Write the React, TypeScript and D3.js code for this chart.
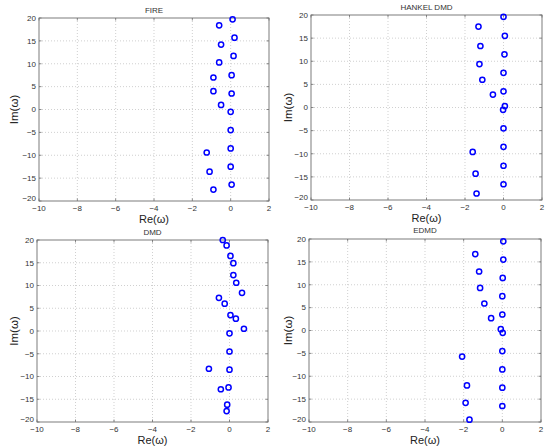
import React from "react";
import * as d3 from "d3";

const titles = ["FIRE", "HANKEL DMD", "DMD", "EDMD"];
const xTicks = [-10, -8, -6, -4, -2, 0, 2];
const yTicks = [-20, -15, -10, -5, 0, 5, 10, 15, 20];

const fireRe = [0.1, -0.6, 0.2, -0.5, 0.15, -0.6, -0.9, 0.05, -0.9, 0.05, -0.5, 0, 0, 0, -1.25, 0, -1.1, 0.05, -0.9];
const fireIm = [19.7, 18.4, 15.7, 14.2, 11.7, 10.3, 7.0, 7.5, 4.0, 3.5, 1.0, -0.5, -4.5, -8.5, -9.4, -12.5, -13.6, -16.4, -17.5];

const hankelRe = [0.0, -1.3, 0.07, -1.2, 0.05, -1.25, 0, -1.1, 0, -0.55, 0.07, -0.02, 0, 0, -1.6, 0, -1.45, 0, -1.4];
const hankelIm = [19.6, 17.5, 15.5, 13.3, 11.5, 9.4, 7.5, 6.0, 3.5, 2.8, 0.3, -0.5, -4.5, -8.5, -9.6, -12.6, -14.3, -16.6, -18.6];

const dmdRe = [-0.35, -0.15, 0.05, 0.2, 0.2, 0.35, 0.65, -0.55, -0.25, 0.05, 0.33, 0.75, 0, 0, -1.07, 0, -0.05, -0.45, -0.12, -0.15];
const dmdIm = [20.0, 18.8, 16.5, 14.9, 12.3, 10.6, 8.4, 7.3, 6.0, 3.5, 2.7, 0.5, -0.5, -4.5, -8.3, -8.5, -12.4, -12.8, -16.2, -17.6];

const edmdRe = [0.05, -1.4, 0.05, -1.2, 0.02, -1.15, 0, -0.93, 0, -0.58, -0.08, 0.02, 0, -2.08, 0, -1.83, 0, -1.9, 0, -1.7];
const edmdIm = [19.5, 16.7, 15.5, 12.9, 11.5, 9.3, 7.5, 5.9, 3.5, 2.7, 0.3, -0.5, -4.5, -5.7, -8.5, -12.0, -12.5, -15.8, -16.5, -19.5];

const seriesRe = [fireRe, hankelRe, dmdRe, edmdRe];
const seriesIm = [fireIm, hankelIm, dmdIm, edmdIm];

// panel geometry (layout only)
const layout = [
  { left: 39, top: 18, w: 230, h: 183, titleY: 10, imX: 14 },
  { left: 311, top: 15, w: 231, h: 185, titleY: 7, imX: 288 },
  { left: 37, top: 240, w: 231, h: 182, titleY: 232, imX: 14 },
  { left: 309, top: 239, w: 232, h: 183, titleY: 230, imX: 288 },
];

const FONT = "'Liberation Sans', Arial, Helvetica, sans-serif";
const AX = "#6e6e6e";
const TXT = "#333";

function Panel({ i }: { i: number }) {
  const L = layout[i];
  const x = d3.scaleLinear().domain([-10, 2]).range([L.left, L.left + L.w]);
  const y = d3.scaleLinear().domain([-20, 20]).range([L.top + L.h, L.top]);
  const re = seriesRe[i];
  const im = seriesIm[i];
  const cx = L.left + L.w / 2;
  const bottom = L.top + L.h;
  return (
    <g>
      <rect x={L.left} y={L.top} width={L.w} height={L.h} fill="#fff" />
      {xTicks.slice(1, -1).map((t) => (
        <line key={"gx" + t} x1={x(t)} x2={x(t)} y1={L.top} y2={bottom} stroke="#bbb" strokeWidth={0.7} strokeDasharray="1,2" />
      ))}
      {yTicks.slice(1, -1).map((t) => (
        <line key={"gy" + t} x1={L.left} x2={L.left + L.w} y1={y(t)} y2={y(t)} stroke="#bbb" strokeWidth={0.7} strokeDasharray="1,2" />
      ))}
      {xTicks.map((t) => (
        <g key={"tx" + t}>
          <line x1={x(t)} x2={x(t)} y1={bottom} y2={bottom - 2.5} stroke={AX} strokeWidth={0.8} />
          <line x1={x(t)} x2={x(t)} y1={L.top} y2={L.top + 2.5} stroke={AX} strokeWidth={0.8} />
          <text x={x(t)} y={bottom + 9.5} fontSize={8} fill={TXT} textAnchor="middle" fontFamily={FONT}>
            {t < 0 ? "\u2212" + Math.abs(t) : String(t)}
          </text>
        </g>
      ))}
      {yTicks.map((t) => (
        <g key={"ty" + t}>
          <line x1={L.left} x2={L.left + 2.5} y1={y(t)} y2={y(t)} stroke={AX} strokeWidth={0.8} />
          <line x1={L.left + L.w} x2={L.left + L.w - 2.5} y1={y(t)} y2={y(t)} stroke={AX} strokeWidth={0.8} />
          <text x={L.left - 3} y={y(t) + (t === -20 ? 0.4 : 2.8)} fontSize={8} fill={TXT} textAnchor="end" fontFamily={FONT}>
            {t < 0 ? "\u2212" + Math.abs(t) : String(t)}
          </text>
        </g>
      ))}
      <rect x={L.left} y={L.top} width={L.w} height={L.h} fill="none" stroke={AX} strokeWidth={0.9} />
      {re.map((v, k) => (
        <circle key={k} cx={x(v)} cy={y(im[k])} r={2.6} fill="none" stroke="#0000ff" strokeWidth={1.5} />
      ))}
      <text x={cx} y={L.titleY + 3} fontSize={8} fill={TXT} textAnchor="middle" fontFamily={FONT}>{titles[i]}</text>
      <text x={cx} y={bottom + 21.5} fontSize={11} fill="#222" textAnchor="middle" fontFamily={FONT}>Re(ω)</text>
      <text transform={`translate(${L.imX + 4},${L.top + L.h / 2}) rotate(-90)`} fontSize={11.5} fill="#222" textAnchor="middle" fontFamily={FONT}>Im(ω)</text>
    </g>
  );
}

export default function App() {
  return (
    <svg width={550} height={446} style={{ position: "absolute", left: 0, top: 0, background: "#fff" }}>
      {titles.map((_, i) => (
        <Panel key={i} i={i} />
      ))}
    </svg>
  );
}
